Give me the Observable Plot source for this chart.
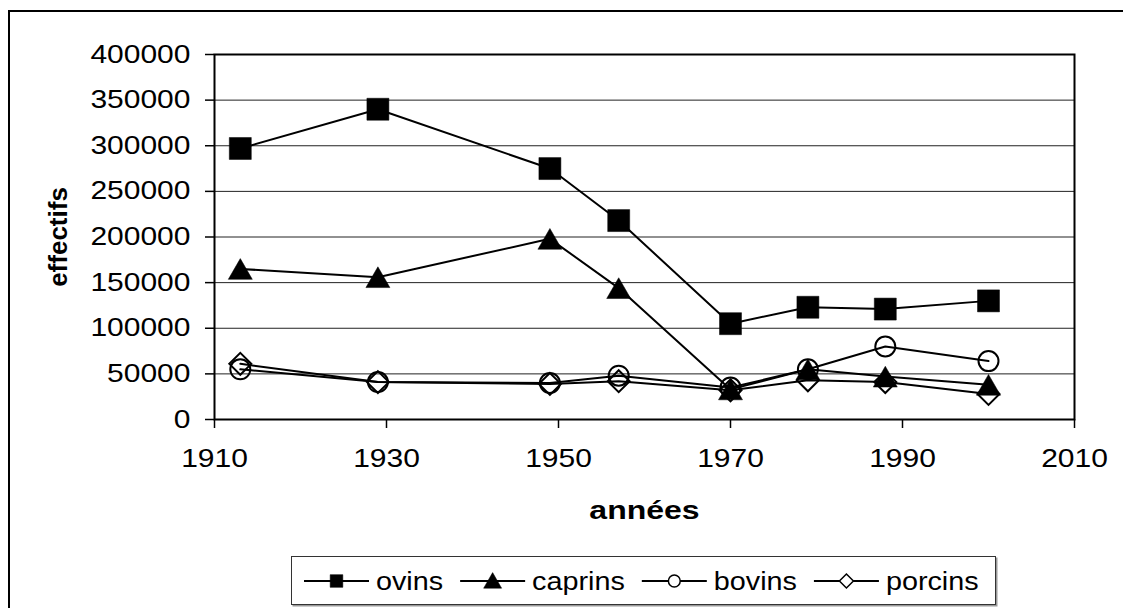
<!DOCTYPE html>
<html>
<head>
<meta charset="utf-8">
<script src="https://cdn.jsdelivr.net/npm/d3@7"></script>
<script src="https://cdn.jsdelivr.net/npm/@observablehq/plot@0.6"></script>
<style>
  html, body { margin: 0; padding: 0; background: #fff; overflow: hidden; width: 1123px; height: 608px; }
  #outer { position: absolute; left: 8px; top: 10px; width: 2000px; height: 2000px; border: 2.5px solid #000; }
  #chart { position: absolute; left: 0; top: 0; }
  #legend { position: absolute; left: 291px; top: 556px; width: 703px; height: 47px; border: 1px solid #333; box-shadow: 1.5px 1.5px 0 #999; background: #fff; }
</style>
</head>
<body>
<div id="outer"></div>
<div id="chart"></div>
<div id="legend"></div>
<script>
// ---- data ----
const years   = [1913, 1929, 1949, 1957, 1970, 1979, 1988, 2000];
const ovins   = [297000, 340000, 275000, 218000, 105000, 123000, 121000, 130000];
const caprins = [165000, 156000, 198000, 144000, 33000, 55000, 47000, 38000];
const bovins  = [55000, 41000, 40000, 48000, 35000, 55000, 80000, 64000];
const porcins = [61000, 41000, 39000, 42000, 32000, 43000, 41000, 28000];
const seriesNames = ["ovins", "caprins", "bovins", "porcins"];
const xTicks = [1910, 1930, 1950, 1970, 1990, 2010];
const yTicks = [0, 50000, 100000, 150000, 200000, 250000, 300000, 350000, 400000];
const xLabel = "années";
const yLabel = "effectifs";

const seriesValues = {ovins, caprins, bovins, porcins};
const symbols = {ovins: "square", caprins: "triangle", bovins: "circle", porcins: "diamond2"};
const filled  = {ovins: true, caprins: true, bovins: false, porcins: false};
const radius  = {ovins: 12.4, caprins: 8.9, bovins: 10, porcins: 9.9};
const dyShift = {ovins: 0, caprins: 3.5, bovins: 0, porcins: 0};

const data = seriesNames.flatMap(s => years.map((yr, i) => ({serie: s, year: yr, value: seriesValues[s][i]})));

const FONT = "'Liberation Sans', Arial, sans-serif";
const STRETCH = 1.2;

const marks = [
  Plot.gridY(yTicks, {stroke: "#222", strokeOpacity: 1, strokeWidth: 1}),
  Plot.axisY({ticks: yTicks, tickSize: 9, tickPadding: 15, label: null, tickFormat: d => String(d), strokeWidth: 1.5}),
  Plot.axisX({ticks: xTicks, tickSize: 9, tickPadding: 21, label: null, tickFormat: d => String(d), strokeWidth: 1.5}),
  Plot.frame({stroke: "#000", strokeWidth: 2})
];
for (const s of seriesNames) {
  const d = data.filter(r => r.serie === s);
  marks.push(Plot.line(d, {x: "year", y: "value", stroke: "#000", strokeWidth: 2}));
  marks.push(Plot.dot(d, {
    x: "year", y: "value", symbol: () => symbols[s], r: radius[s], dy: dyShift[s],
    fill: filled[s] ? "#000" : "none", stroke: "#000", strokeWidth: filled[s] ? 0.5 : 2
  }));
}
marks.push(Plot.text([yLabel], {text: d => d, frameAnchor: "left", textAnchor: "middle", rotate: -90, dx: -156, fontWeight: "bold", fontSize: 26}));
marks.push(Plot.text([xLabel], {text: d => d, frameAnchor: "bottom", textAnchor: "middle", dy: 99, fontWeight: "bold", fontSize: 25}));

const svg = Plot.plot({
  width: 1123, height: 608,
  marginLeft: 214, marginRight: 49, marginTop: 54, marginBottom: 189,
  style: {fontFamily: FONT, fontSize: "25px", background: "transparent", color: "#000", overflow: "visible"},
  x: {domain: [1910, 2010]},
  y: {domain: [0, 400000]},
  symbol: {type: "identity"},
  marks
});
document.getElementById("chart").appendChild(svg);

// horizontal stretch of the text, as in the reference picture
svg.querySelectorAll("text").forEach(t => {
  if (t.textContent === yLabel) return;
  const len = t.getComputedTextLength();
  const f = t.textContent === xLabel ? 1.28 : STRETCH;
  t.setAttribute("textLength", len * f);
  t.setAttribute("lengthAdjust", "spacingAndGlyphs");
});

// ---- legend ----
const LEG_STRETCH = 1.15;
const lg = d3.select("#legend").append("svg").attr("width", 703).attr("height", 47)
  .style("font-family", FONT).style("font-size", "25px");
const legSize = {ovins: 160, caprins: 140, bovins: 110, porcins: 125};
const symType = {square: d3.symbolSquare, triangle: d3.symbolTriangle, circle: d3.symbolCircle, diamond2: d3.symbolDiamond2};
let cx = 12;
const cy = 24;
for (const s of seriesNames) {
  const g = lg.append("g");
  g.append("line").attr("x1", cx).attr("x2", cx + 65).attr("y1", cy).attr("y2", cy).attr("stroke", "#000").attr("stroke-width", 2);
  g.append("path").attr("d", d3.symbol(symType[symbols[s]], legSize[s])())
    .attr("transform", `translate(${cx + 32.5},${cy + (s === "caprins" ? 2 : 0)})`)
    .attr("fill", filled[s] ? "#000" : "#fff").attr("stroke", "#000").attr("stroke-width", filled[s] ? 0.5 : 1.5);
  const t = g.append("text").attr("x", cx + 72).attr("y", cy + 9).text(s);
  const len = t.node().getComputedTextLength() * LEG_STRETCH;
  t.attr("textLength", len).attr("lengthAdjust", "spacingAndGlyphs");
  cx += 72 + len + 17;
}
</script>
</body>
</html>
